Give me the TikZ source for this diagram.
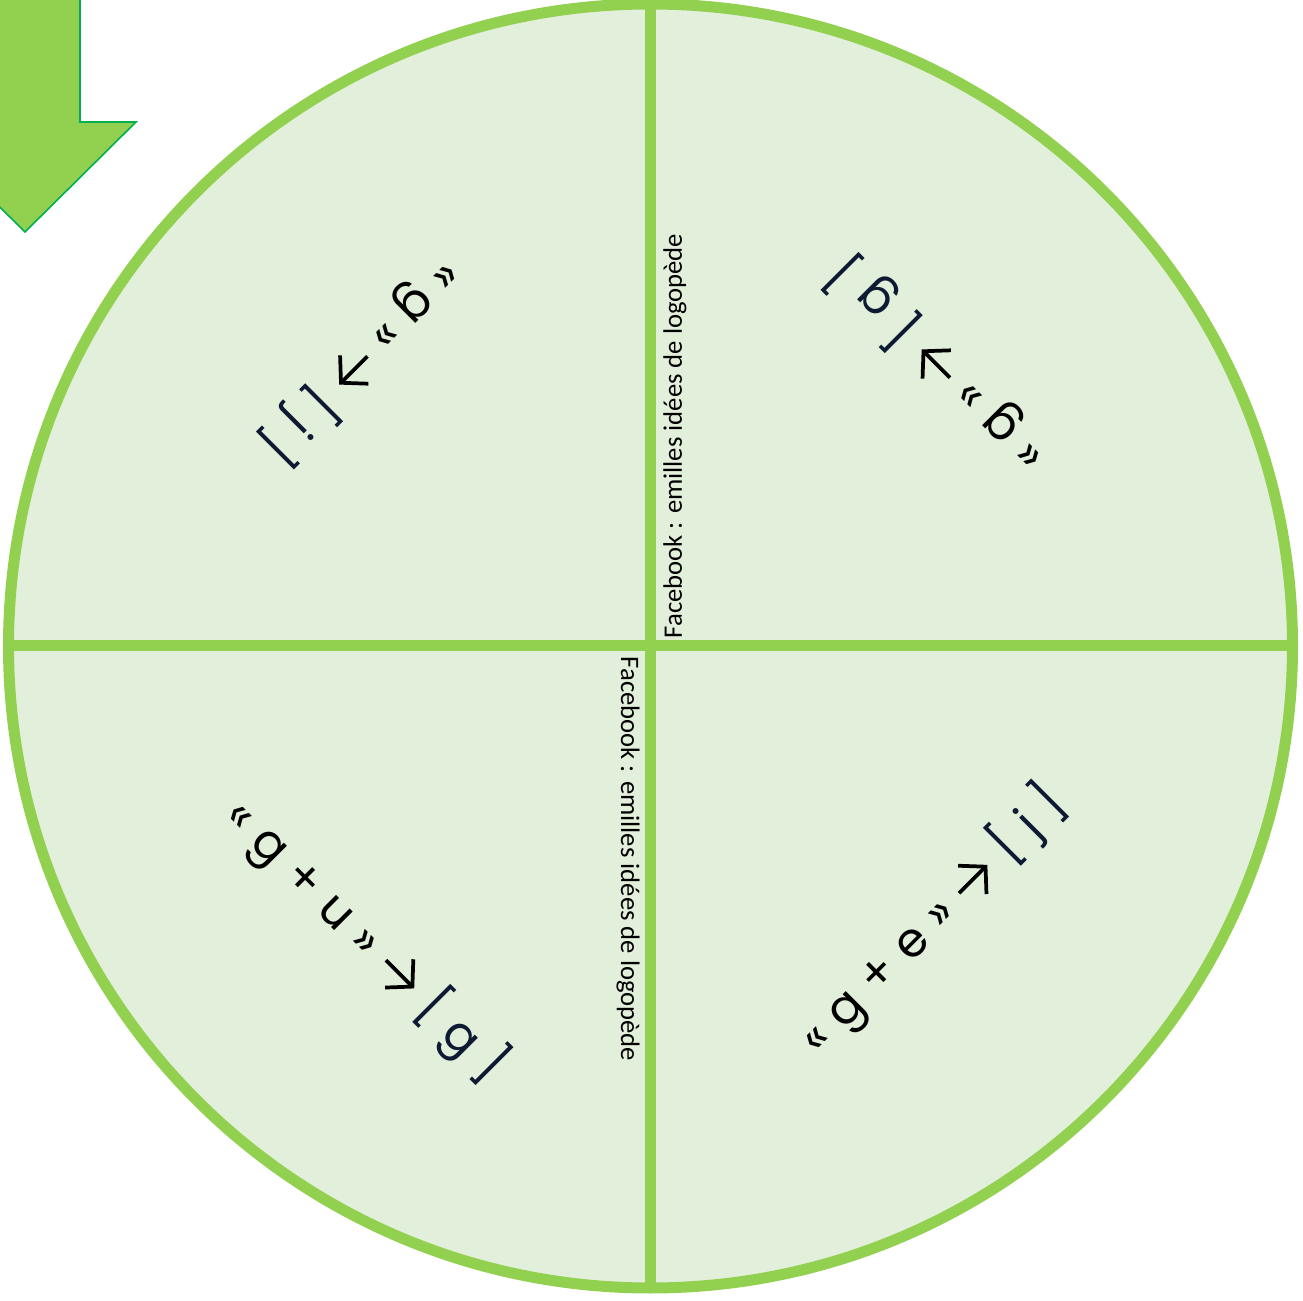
\documentclass[tikz,border=0pt]{standalone}
\usepackage{fontspec}
\usetikzlibrary{arrows.meta}
\setmainfont{Poppins}[WordSpace=1.15]
\newfontfamily\fbfont{Carlito}
\definecolor{leaf}{HTML}{92D050}
\definecolor{pale}{HTML}{E2EFDA}
\definecolor{edge}{HTML}{00B050}
\definecolor{ink}{HTML}{0E1A33}
\newcommand{\toarr}{\tikz[baseline=-0.6ex]\draw[line width=2.8pt,
  -{Straight Barb[length=14pt,width=30pt,line width=2.8pt]}] (0pt,0pt) -- (30pt,0pt);}
\begin{document}
\begin{tikzpicture}[x=0.75pt,y=0.75pt,
  rule/.style={line width=8.25pt,draw=leaf},
  sound/.style={font=\fontsize{36}{36}\selectfont,inner sep=0pt},
  credit/.style={font=\fbfont\fontsize{20}{20}\selectfont,inner sep=0pt}]
\useasboundingbox (0,0) rectangle (1303,1300);
% big arrow in the corner
\draw[fill=leaf,draw=edge,line width=1.2pt] (-30,1350) -- (80,1350) -- (80,1178)
  -- (136,1178) -- (25,1068) -- (-86,1178) -- (-30,1178) -- cycle;
% the wheel
\coordinate (c) at (650.5,654);
\path (c) +(0,642) coordinate (n) +(0,-642) coordinate (s)
          +(-642,0) coordinate (w) +(642,0) coordinate (e);
\draw[rule,fill=pale] (c) circle (642);
\draw[rule] (n) -- (s);
\draw[rule] (w) -- (e);
% sounds
\node[sound,rotate=-135] (nw) at (362,938) {« g » \toarr{} \textcolor{ink}{[ j ]}};
\node[sound,rotate=135] (ne) at (937,935) {« g » \toarr{} \textcolor{ink}{[ g ]}};
\node[sound,rotate=-45] (sw) at (366,360) {« g + u » \toarr{} \textcolor{ink}{[ g ]}};
\node[sound,rotate=45] (se) at (932,380) {« g + e » \toarr{} \textcolor{ink}{[ j ]}};
% credits
\node[credit,rotate=90] (fbtop) at (675,864) {Facebook : emilles idées de logopède};
\node[credit,rotate=-90] (fbbot) at (628,441) {Facebook : emilles idées de logopède};
\end{tikzpicture}
\end{document}
